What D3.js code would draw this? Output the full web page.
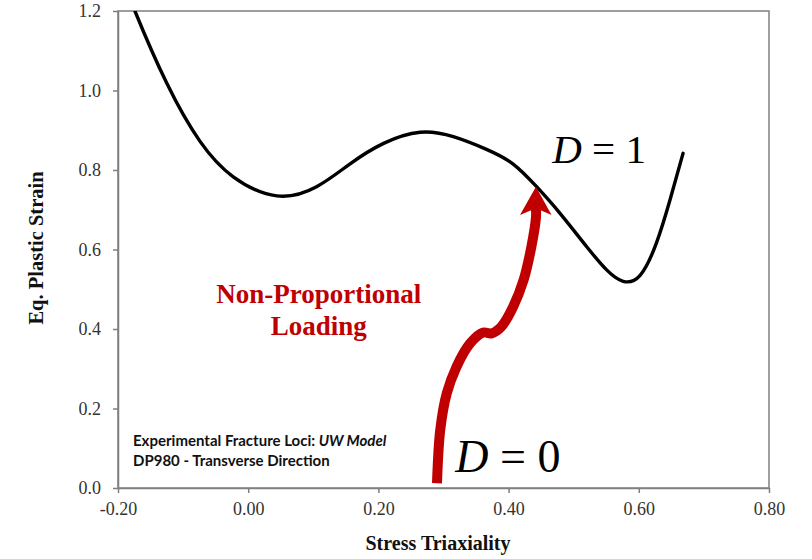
<!DOCTYPE html>
<html>
<head>
<meta charset="utf-8">
<script src="https://cdn.jsdelivr.net/npm/d3@7"></script>
<style>
  html, body { margin: 0; padding: 0; background: #fff; }
  svg { display: block; }
</style>
</head>
<body>
<svg id="chart" width="812" height="559"></svg>
<script>
// ---- data ----
const xTicks = [-0.2, 0.0, 0.2, 0.4, 0.6, 0.8];
const yTicks = [0.0, 0.2, 0.4, 0.6, 0.8, 1.0, 1.2];
const xTickLabels = ["-0.20", "0.00", "0.20", "0.40", "0.60", "0.80"];
const yTickLabels = ["0.0", "0.2", "0.4", "0.6", "0.8", "1.0", "1.2"];

// fracture locus (stress triaxiality, eq. plastic strain)
const locusX = [-0.195, -0.174, -0.125, -0.074, -0.023, 0.044, 0.105, 0.156, 0.208, 0.264, 0.315, 0.366, 0.407, 0.443, 0.479, 0.520, 0.551, 0.576, 0.602, 0.627, 0.648, 0.668];
const locusY = [1.290, 1.200, 1.018, 0.872, 0.783, 0.735, 0.758, 0.815, 0.867, 0.895, 0.884, 0.852, 0.815, 0.758, 0.691, 0.607, 0.548, 0.520, 0.535, 0.616, 0.725, 0.842];

// non-proportional loading path (arrow)
const pathX = [0.290, 0.295, 0.305, 0.320, 0.341, 0.361, 0.374, 0.389, 0.407, 0.423, 0.435, 0.442, 0.442];
const pathY = [0.012, 0.146, 0.238, 0.305, 0.364, 0.391, 0.389, 0.406, 0.456, 0.523, 0.607, 0.680, 0.705];
const headX = [0.442, 0.4175, 0.442, 0.466];
const headY = [0.758, 0.687, 0.704, 0.687];

const xTitle = "Stress Triaxiality";
const yTitle = "Eq. Plastic Strain";
const noteLines = ["Experimental Fracture Loci: ", "DP980 - Transverse Direction"];
const noteItalic = "UW Model";
const loadLabel = ["Non-Proportional", "Loading"];

// ---- drawing ----
const svg = d3.select("#chart");
const x = d3.scaleLinear().domain([-0.2, 0.8]).range([118, 769]);
const y = d3.scaleLinear().domain([0, 1.2]).range([488, 11]);

const serif = "'Liberation Serif', 'Times New Roman', serif";
const axisColor = "#7f7f7f";

// frame
svg.append("rect")
  .attr("x", x(-0.2)).attr("y", y(1.2))
  .attr("width", x(0.8) - x(-0.2)).attr("height", y(0) - y(1.2))
  .attr("fill", "none").attr("stroke", axisColor).attr("stroke-width", 1.5);

// axes
const xAxis = d3.axisBottom(x).tickValues(xTicks)
  .tickFormat((d, i) => xTickLabels[i]).tickSize(5).tickSizeOuter(0).tickPadding(9);
const gx = svg.append("g").attr("transform", `translate(0,${y(0)})`).call(xAxis);
const yAxis = d3.axisLeft(y).tickValues(yTicks)
  .tickFormat((d, i) => yTickLabels[i]).tickSize(5).tickSizeOuter(0).tickPadding(12);
const gy = svg.append("g").attr("transform", `translate(${x(-0.2)},0)`).call(yAxis);

[gx, gy].forEach(g => {
  g.attr("font-family", serif);
  g.select(".domain").attr("stroke", axisColor).attr("stroke-width", 1.5);
  g.selectAll(".tick line").attr("stroke", axisColor).attr("stroke-width", 1.5);
  g.selectAll(".tick text").attr("font-family", serif).attr("font-size", 18).attr("fill", "#333");
});

// clip
svg.append("clipPath").attr("id", "plotclip")
  .append("rect").attr("x", x(-0.2)).attr("y", y(1.2))
  .attr("width", x(0.8) - x(-0.2)).attr("height", y(0) - y(1.2));

// locus curve
const locus = locusX.map((v, i) => [v, locusY[i]]);
svg.append("path")
  .datum(locus)
  .attr("clip-path", "url(#plotclip)")
  .attr("fill", "none").attr("stroke", "#000").attr("stroke-width", 3.4)
  .attr("stroke-linecap", "round")
  .attr("d", d3.line().x(d => x(d[0])).y(d => y(d[1])).curve(d3.curveNatural));

// arrow shaft
const red = "#c00000";
const lp = pathX.map((v, i) => [v, pathY[i]]);
svg.append("path")
  .datum(lp)
  .attr("fill", "none").attr("stroke", red).attr("stroke-width", 10)
  .attr("d", d3.line().x(d => x(d[0])).y(d => y(d[1])).curve(d3.curveCatmullRom.alpha(0.5)));
// arrow head
svg.append("path")
  .attr("fill", red)
  .attr("d", d3.line()(headX.map((v, i) => [x(v), y(headY[i])])) + "Z");

// D labels
function dLabel(xp, yp, size, rest) {
  const t = svg.append("text").attr("x", xp).attr("y", yp)
    .attr("font-family", serif).attr("font-size", size).attr("fill", "#000")
    .style("white-space", "pre");
  t.append("tspan").attr("font-style", "italic").text("D");
  t.append("tspan").text(rest);
}
dLabel(x(0.467), y(0.818), 41, " = 1");
dLabel(x(0.318), y(0.041), 46, " = 0");

// loading label
svg.append("text")
  .attr("x", x(0.1085)).attr("y", y(0.465))
  .attr("text-anchor", "middle")
  .attr("font-family", serif).attr("font-weight", "bold").attr("font-size", 27)
  .attr("fill", red)
  .selectAll("tspan").data(loadLabel).join("tspan")
  .attr("x", x(0.1085)).attr("dy", (d, i) => i === 0 ? 0 : 32)
  .text(d => d);

// note
const noteFont = "Lato, 'Open Sans', sans-serif";
const note = svg.append("text")
  .attr("x", 133).attr("y", 446)
  .attr("font-family", noteFont).attr("font-weight", "bold")
  .attr("font-size", 15).attr("fill", "#111");
note.append("tspan").style("white-space", "pre").text(noteLines[0]);
note.append("tspan").attr("font-style", "italic").text(noteItalic);
svg.append("text")
  .attr("x", 133).attr("y", 466)
  .attr("font-family", noteFont).attr("font-weight", "bold")
  .attr("font-size", 15).attr("fill", "#111")
  .text(noteLines[1]);

// axis titles
svg.append("text")
  .attr("x", 438).attr("y", 550)
  .attr("text-anchor", "middle")
  .attr("font-family", serif).attr("font-weight", "bold").attr("font-size", 20)
  .attr("fill", "#111")
  .text(xTitle);
svg.append("text")
  .attr("transform", `translate(43,248) rotate(-90)`)
  .attr("text-anchor", "middle")
  .attr("font-family", serif).attr("font-weight", "bold").attr("font-size", 20.5)
  .attr("fill", "#111")
  .text(yTitle);
</script>
</body>
</html>
